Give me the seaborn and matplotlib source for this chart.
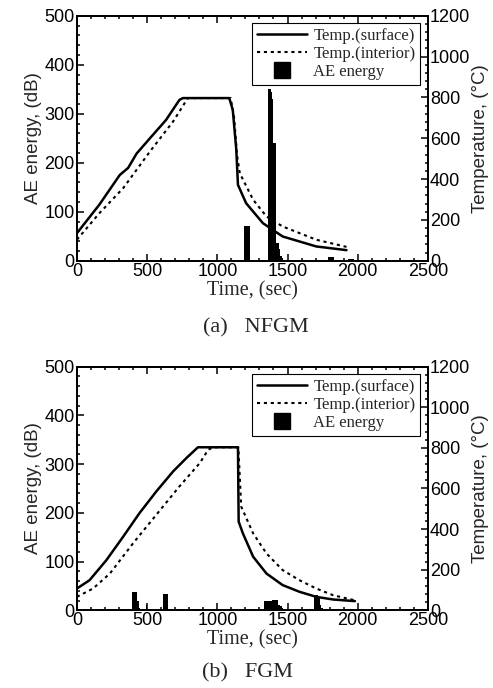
import matplotlib.pyplot as plt
import seaborn as sns
from matplotlib.lines import Line2D
from matplotlib.ticker import MultipleLocator

# ---- (a) NFGM : temperature curves (time sec, temperature degC)
nfgm_surf_t = [0, 160, 305, 365, 425, 520, 635, 730, 755, 1085, 1110, 1135, 1147, 1205, 1325, 1465, 1705, 1920]
nfgm_surf_T = [135, 275, 420, 455, 525, 600, 690, 788, 797, 797, 740, 545, 372, 282, 184, 119, 70, 52]
nfgm_int_t = [0, 160, 330, 520, 685, 790, 1095, 1120, 1140, 1160, 1255, 1350, 1465, 1705, 1920]
nfgm_int_T = [103, 233, 356, 535, 682, 797, 797, 700, 520, 429, 299, 217, 168, 103, 68]
# AE energy bursts (bin centre sec, dB)
nfgm_ae_t = [1195, 1205, 1215, 1225,
             1365, 1375, 1385, 1395, 1405, 1415, 1425, 1435, 1445, 1455, 1465,
             1795, 1805, 1815, 1825, 1935, 1945, 1955, 1965]
nfgm_ae_db = [70, 70, 70, 70,
              350, 350, 345, 330, 240, 240, 36, 36, 25, 10, 5,
              8, 8, 8, 8, 3, 3, 4, 3]

# ---- (b) FGM
fgm_surf_t = [0, 90, 210, 330, 445, 565, 685, 780, 862, 1147, 1152, 1182, 1255, 1350, 1465, 1585, 1705, 1825, 1980]
fgm_surf_T = [107, 148, 247, 363, 478, 585, 684, 750, 803, 803, 437, 379, 264, 181, 124, 91, 66, 53, 45]
fgm_int_t = [0, 115, 235, 400, 565, 730, 875, 935, 970, 1150, 1170, 1255, 1350, 1465, 1585, 1705, 1825, 1980]
fgm_int_T = [66, 107, 181, 330, 470, 610, 725, 791, 803, 803, 511, 379, 280, 198, 148, 107, 74, 49]
fgm_ae_t = [395, 405, 415, 425, 435, 445, 495,
            615, 625, 635, 645,
            1335, 1345, 1355, 1365, 1375, 1385, 1395, 1405, 1415, 1425, 1435, 1445, 1455, 1465,
            1695, 1705, 1715, 1725, 1735, 1745]
fgm_ae_db = [38, 38, 38, 38, 20, 5, 10,
             34, 34, 34, 34,
             20, 20, 20, 20, 20, 20, 22, 22, 22, 22, 10, 10, 8, 5,
             31, 31, 31, 25, 10, 5]

legend_labels = ["Temp.(surface)", "Temp.(interior)", "AE energy"]

sns.set_theme(style="ticks")
plt.rcParams["font.family"] = ["Liberation Sans", "DejaVu Sans"]
serif = ["Liberation Serif", "DejaVu Serif"]

fig = plt.figure(figsize=(4.93, 6.88), dpi=100)


def draw_panel(rect, surf_t, surf_T, int_t, int_T, ae_t, ae_db, caption, cap_x, cap_y):
    ax = fig.add_axes(rect)
    sns.histplot(x=ae_t, weights=ae_db, binwidth=10, binrange=(0, 2500), ax=ax,
                 color="black", alpha=1, linewidth=0, edgecolor="black")
    ax.set_xlim(0, 2500)
    ax.set_ylim(0, 500)
    ax.xaxis.set_major_locator(MultipleLocator(500))
    ax.xaxis.set_minor_locator(MultipleLocator(100))
    ax.yaxis.set_major_locator(MultipleLocator(100))
    ax.yaxis.set_minor_locator(MultipleLocator(20))
    ax.tick_params(which="both", direction="in", top=True, right=False,
                   labelsize=13, width=1.1, pad=1.5, colors="black")
    ax.tick_params(which="major", length=5)
    ax.tick_params(which="minor", length=2.5)
    ax.set_ylabel("AE energy, (dB)", fontsize=13.5, labelpad=2)
    ax.set_xlabel("Time, (sec)", fontsize=14.5, family=serif, labelpad=1)

    ax2 = ax.twinx()
    sns.lineplot(x=surf_t, y=surf_T, ax=ax2, color="black", linewidth=1.8,
                 estimator=None, sort=False)
    sns.lineplot(x=int_t, y=int_T, ax=ax2, color="black", linewidth=1.5,
                 linestyle=(0, (1.5, 1.8)), estimator=None, sort=False)
    ax2.set_ylim(0, 1200)
    ax2.yaxis.set_major_locator(MultipleLocator(200))
    ax2.yaxis.set_minor_locator(MultipleLocator(40))
    ax2.tick_params(which="both", direction="in", labelsize=13, width=1.1, pad=1.5, colors="black")
    ax2.tick_params(which="major", length=5)
    ax2.tick_params(which="minor", length=2.5)
    ax2.set_ylabel("Temperature, (°C)", fontsize=13.5, labelpad=1)
    for a in (ax, ax2):
        for s in a.spines.values():
            s.set_linewidth(1.4)
            s.set_color("black")

    handles = [
        Line2D([], [], color="black", linewidth=1.8),
        Line2D([], [], color="black", linewidth=1.5, linestyle=(0, (1.5, 1.8))),
        Line2D([], [], color="black", marker="s", markersize=12, linestyle="none"),
    ]
    leg = ax2.legend(handles, legend_labels, loc="upper right", prop={"family": serif, "size": 12},
                     frameon=True, fancybox=False, framealpha=1, edgecolor="black",
                     handlelength=3.0, handletextpad=0.4, labelspacing=0.1,
                     borderpad=0.3, borderaxespad=0.45)
    leg.get_frame().set_linewidth(0.8)
    fig.text(cap_x, cap_y, caption, ha="center", va="center", family=serif, fontsize=16)


draw_panel([0.156, 0.621, 0.712, 0.356], nfgm_surf_t, nfgm_surf_T, nfgm_int_t, nfgm_int_T,
           nfgm_ae_t, nfgm_ae_db, "(a)   NFGM", 0.519, 0.523)
draw_panel([0.156, 0.113, 0.712, 0.354], fgm_surf_t, fgm_surf_T, fgm_int_t, fgm_int_T,
           fgm_ae_t, fgm_ae_db, "(b)   FGM", 0.503, 0.022)

fig.savefig("out.png", dpi=100)
